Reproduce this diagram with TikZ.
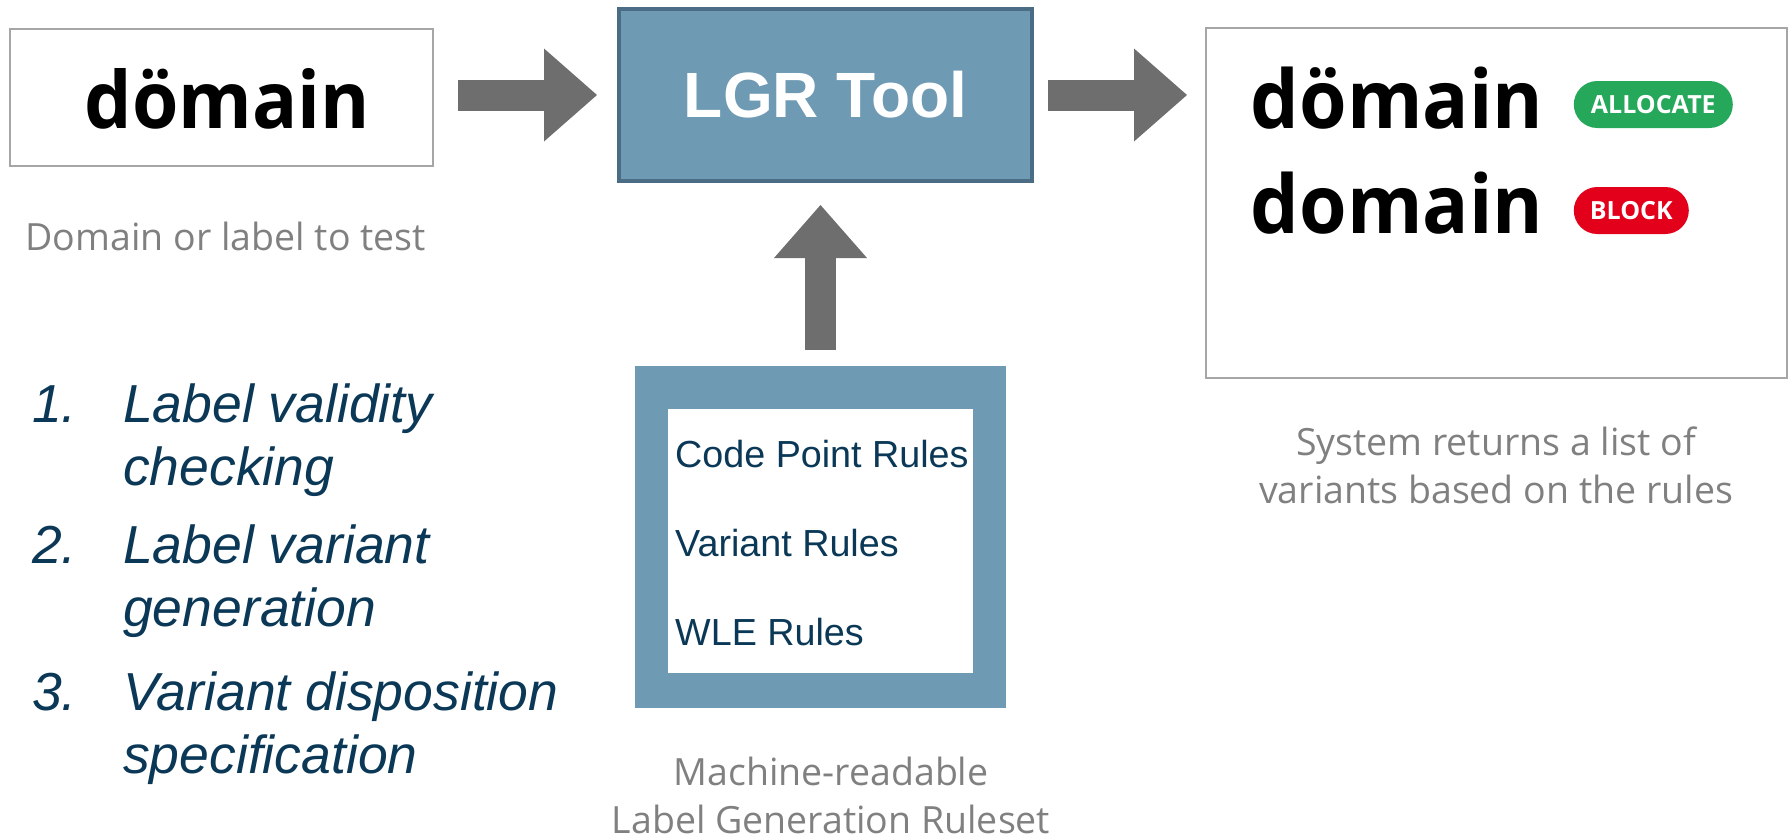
\documentclass[tikz,border=0pt]{standalone}
\usepackage{fontspec}
\setmainfont{Liberation Sans}
\newfontfamily\opensans{Open Sans}
\newfontfamily\wordfont[FakeStretch=0.95]{Open Sans}
\usetikzlibrary{arrows.meta}
\definecolor{toolblue}{RGB}{110,154,180}
\definecolor{tooledge}{RGB}{74,109,133}
\definecolor{arrowgray}{RGB}{110,110,110}
\definecolor{boxgray}{RGB}{166,166,166}
\definecolor{capgray}{RGB}{128,128,128}
\definecolor{navy}{RGB}{10,56,86}
\definecolor{okgreen}{RGB}{37,168,90}
\definecolor{blockred}{RGB}{226,0,26}
\begin{document}
\begin{tikzpicture}
[x=1pt, y=-1pt,
 graybox/.style={draw=boxgray, line width=2pt, fill=white},
 tool/.style={draw=tooledge, line width=4pt, fill=toolblue, text=white, font=\fontsize{64}{70}\selectfont\bfseries},
 bigword/.style={font=\wordfont\bfseries\fontsize{81}{90}\selectfont, inner sep=0pt},
 caption/.style={text=capgray, font=\opensans\fontsize{37.5}{48}\selectfont, align=center, inner sep=0pt},
 pill/.style={rounded corners=23.5pt, minimum height=47pt, text=white, inner sep=0pt, font=\opensans\bfseries\fontsize{25}{25}\selectfont},
 ruletext/.style={text=navy, font=\fontsize{37.7}{40}\selectfont, inner sep=0pt},
 listtext/.style={text=navy, font=\itshape\fontsize{53.5}{60}\selectfont, inner sep=0pt},
 fatarrow/.style={draw=arrowgray, line width=31pt, -{Triangle[length=53pt, width=93pt, line width=0pt]}}]
\useasboundingbox (0,0) rectangle (1791,839);

% input
\node[graybox, minimum width=423pt, minimum height=137pt, text height=61.6pt, text depth=0pt, font=\wordfont\bfseries\fontsize{79}{90}\selectfont] (input) at (221.2,97.2) {\hspace*{12pt}dömain};
\node[caption, anchor=base] (inputcap) at (225.8,250) {Domain or label to test};

% tool
\node[tool, minimum width=413pt, minimum height=172pt, text height=44pt, text depth=0pt] (tool) at (825.5,95) {LGR Tool};

% ruleset
\node[fill=toolblue, minimum width=371pt, minimum height=342pt] (rules) at (820.5,537) {};
\node[fill=white, minimum width=305pt, minimum height=264pt] (rulelist) at (820.5,541) {};
\foreach \r [count=\i] in {Code Point Rules, Variant Rules, WLE Rules}
  \node[ruletext, anchor=base west] (rule\i) at (675,378+89*\i) {\r};
\node[caption, anchor=base] (rulescap) at (831,833) {Machine-readable\\Label Generation Ruleset};

% output
\node[graybox, minimum width=581pt, minimum height=350pt] (output) at (1496.5,203.2) {};
\node[bigword, anchor=base west] (variant1) at (1250.5,128) {dömain};
\node[bigword, anchor=base west] (variant2) at (1250.5,233) {domain};
\node[pill, fill=okgreen, minimum width=159pt] (allocate) at (1653.3,104.5) {ALLOCATE};
\node[pill, fill=blockred, minimum width=115pt] (block) at (1631.3,210.5) {BLOCK};
\node[caption, anchor=base] (outputcap) at (1496,503) {System returns a list of\\variants based on the rules};

% steps
\foreach \n/\a/\b/\y in {1/Label validity/checking/422, 2/Label variant/generation/563, 3/Variant disposition/specification/710} {
  \node[listtext, anchor=base east] (num\n) at (77,\y) {\n.};
  \node[listtext, anchor=base west] (first\n) at (123,\y) {\a};
  \node[listtext, anchor=base west] (second\n) at (123,\y+63) {\b};
}

% arrows
\draw[fatarrow, shorten <=24pt, shorten >=20pt] (input.east |- tool.west) -- (tool.west);
\draw[fatarrow, shorten <=14pt, shorten >=18pt] (tool.east) -- (tool.east -| output.west);
\draw[fatarrow, shorten <=16pt, shorten >=22pt] (rules.north) -- (rules.north |- tool.south);
\end{tikzpicture}
\end{document}
